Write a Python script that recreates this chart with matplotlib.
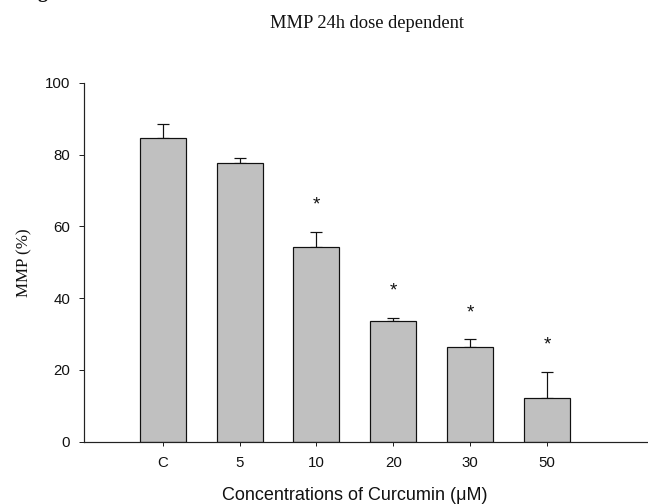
import matplotlib
matplotlib.use("Agg")
import matplotlib.pyplot as plt
import numpy as np

categories = ["C", "5", "10", "20", "30", "50"]
mmp_mean = [84.8, 77.8, 54.4, 33.7, 26.3, 12.3]
mmp_err = [3.9, 1.4, 4.1, 0.9, 2.2, 7.1]
significant = [False, False, True, True, True, True]

fig = plt.figure(figsize=(9, 7), dpi=72)
ax = fig.add_axes([84 / 648, 62.3 / 504, 1 - 84 / 648, (441.7 - 83) / 504])

x = np.arange(1, len(categories) + 1)
ax.bar(x, mmp_mean, width=0.6, color="#c0c0c0", edgecolor="#111111",
       linewidth=1.2, zorder=2)
ax.errorbar(x, mmp_mean, yerr=[np.zeros(len(x)), mmp_err], fmt="none",
            ecolor="#111111", elinewidth=1.2, capsize=6, capthick=1.2, zorder=1)

# significance markers above the error bars
for xi, m, e, s in zip(x, mmp_mean, mmp_err, significant):
    if s:
        ax.text(xi, m + e + 7.5, "*", ha="center", va="center",
                fontsize=19, family="Liberation Sans", color="#111111")

ax.set_xlim(-0.024, 7.314)
ax.set_ylim(0, 100)
ax.set_xticks(x)
ax.set_xticklabels(categories)
ax.set_yticks(np.arange(0, 101, 20))

for side in ("top", "right"):
    ax.spines[side].set_visible(False)
for side in ("left", "bottom"):
    ax.spines[side].set_color("#222222")
    ax.spines[side].set_linewidth(1.2)

ax.tick_params(axis="both", direction="out", color="#222222", width=1.0,
               labelsize=15, labelcolor="#111111")
ax.tick_params(axis="y", length=5, pad=9)
ax.tick_params(axis="x", length=4, pad=10)
for lbl in ax.get_xticklabels() + ax.get_yticklabels():
    lbl.set_family("Liberation Sans")

ax.set_xlabel("Concentrations of Curcumin (\u03bcM)", fontsize=18,
              family="Liberation Sans", color="#111111")
ax.xaxis.set_label_coords(0.48, -0.125)
ax.set_ylabel("MMP (%)", fontsize=17, family="Liberation Serif",
              color="#111111", va="center")
ax.yaxis.set_label_coords(-0.106, 0.5)

fig.text(367.5 / 648, 1 - 23 / 504, "MMP 24h dose dependent", ha="center",
         va="center", fontsize=18.5, family="Liberation Serif", color="#111111")
fig.text(38 / 648, 1 + 2.5 / 504, "g", ha="left", va="baseline",
         fontsize=20, fontweight="bold", family="Liberation Serif", color="#111111")

fig.savefig("out.png", dpi=72)
